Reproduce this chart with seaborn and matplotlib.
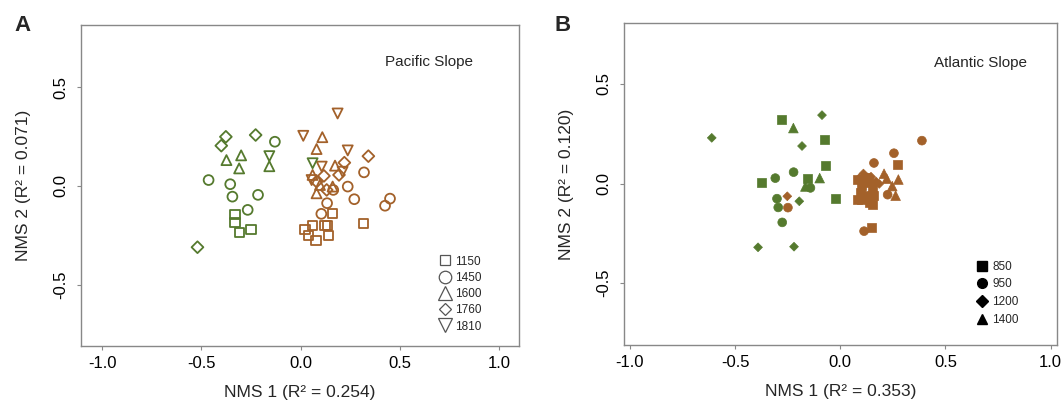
import matplotlib

matplotlib.use("Agg")
import matplotlib.pyplot as plt
import pandas as pd
import seaborn as sns
from matplotlib.lines import Line2D

sns.set_theme(style="white")
plt.rcParams["font.family"] = ["Liberation Sans", "DejaVu Sans"]

GREEN = "#557a2e"
BROWN = "#a3612a"

# Panel A: Pacific Slope (open markers)
pac_x = [-0.377, -0.40, -0.227, -0.13, -0.374, -0.30, -0.31, -0.158, -0.158, -0.464,
         -0.355, -0.344, -0.215, -0.267, -0.331, -0.331, -0.31, -0.25, -0.52, 0.06,
         0.186, 0.013, 0.109, 0.08, 0.237, 0.341, 0.22, 0.173, 0.106, 0.211,
         0.193, 0.319, 0.06, 0.117, 0.055, 0.08, 0.097, 0.161, 0.164, 0.131,
         0.08, 0.237, 0.27, 0.45, 0.425, 0.133, 0.104, 0.161, 0.316, 0.022,
         0.06, 0.122, 0.134, 0.038, 0.139, 0.077]
pac_y = [0.249, 0.204, 0.258, 0.224, 0.131, 0.155, 0.089, 0.151, 0.10, 0.03,
         0.009, -0.054, -0.045, -0.121, -0.146, -0.184, -0.236, -0.219, -0.31, 0.115,
         0.367, 0.254, 0.247, 0.187, 0.18, 0.151, 0.118, 0.103, 0.098, 0.072,
         0.056, 0.069, 0.056, 0.051, 0.03, 0.022, 0.005, -0.003, -0.02, -0.02,
         -0.037, -0.003, -0.067, -0.064, -0.10, -0.087, -0.141, -0.141, -0.189, -0.222,
         -0.202, -0.202, -0.202, -0.251, -0.251, -0.276]
pac_elev = [1760, 1760, 1760, 1450, 1600, 1600, 1600, 1810, 1600, 1450,
            1450, 1450, 1450, 1450, 1150, 1150, 1150, 1150, 1760, 1810,
            1810, 1810, 1600, 1600, 1810, 1760, 1760, 1600, 1810, 1810,
            1760, 1450, 1600, 1760, 1810, 1760, 1600, 1600, 1450, 1760,
            1600, 1450, 1450, 1450, 1450, 1450, 1450, 1150, 1150, 1150,
            1150, 1150, 1150, 1150, 1150, 1150]
pac_group = ["green"] * 20 + ["brown"] * 36

# Panel B: Atlantic Slope (filled markers)
atl_x = [-0.279, -0.223, -0.087, -0.611, -0.182, -0.077, -0.068, -0.222, -0.309, -0.374,
         -0.158, -0.098, -0.166, -0.142, -0.022, -0.301, -0.295, -0.195, -0.276, -0.391,
         -0.22,
         -0.252, -0.249, 0.388, 0.255, 0.273, 0.16, 0.208, 0.276, 0.221, 0.09,
         0.146, 0.185, 0.247, 0.225, 0.263, 0.113, 0.149, 0.084, 0.103, 0.122,
         0.094, 0.122, 0.151, 0.103, 0.141, 0.132, 0.084, 0.16, 0.154, 0.13,
         0.17, 0.11]
atl_y = [0.32, 0.278, 0.343, 0.229, 0.188, 0.219, 0.091, 0.057, 0.027, 0.005,
         0.024, 0.027, -0.015, -0.022, -0.076, -0.076, -0.12, -0.089, -0.195, -0.32,
         -0.317,
         -0.064, -0.121, 0.215, 0.152, 0.094, 0.103, 0.049, 0.02, 0.024, 0.027,
         0.034, -0.002, -0.013, -0.056, -0.061, -0.239, -0.222, 0.019, -0.012, 0.029,
         -0.047, -0.062, -0.022, -0.082, -0.097, 0.004, -0.082, -0.062, -0.107, 0.03,
         0.01, 0.05]
atl_elev = [850, 1400, 1200, 1200, 1200, 850, 850, 950, 950, 850,
            850, 1400, 1400, 950, 850, 950, 950, 1200, 950, 1200,
            1200,
            1200, 950, 950, 950, 850, 950, 1400, 1400, 1400, 1200,
            1200, 1200, 1400, 950, 1400, 950, 850, 850, 850, 850,
            850, 850, 850, 850, 850, 850, 850, 850, 850, 1200,
            1200, 1200]
atl_group = ["green"] * 21 + ["brown"] * 32

pac_levels = [1150, 1450, 1600, 1760, 1810]
pac_markers = {1150: "s", 1450: "o", 1600: "^", 1760: "D", 1810: "v"}
pac_sizes = {1150: 44, 1450: 50, 1600: 52, 1760: 36, 1810: 52}
atl_levels = [850, 950, 1200, 1400]
atl_markers = {850: "s", 950: "o", 1200: "D", 1400: "^"}
atl_sizes = {850: 42, 950: 40, 1200: 20, 1400: 48}

colors = {"green": GREEN, "brown": BROWN}


def style_axes(ax, xlabel, ylabel, xlim, ylim):
    ax.set_xlim(*xlim)
    ax.set_ylim(*ylim)
    ax.set_xticks([-1.0, -0.5, 0.0, 0.5, 1.0])
    ax.set_yticks([-0.5, 0.0, 0.5])
    ax.set_xticklabels(["-1.0", "-0.5", "0.0", "0.5", "1.0"])
    ax.set_yticklabels(["-0.5", "0.0", "0.5"], rotation=90, va="center")
    ax.tick_params(direction="out", length=3, width=0.8, color="#888888",
                   labelsize=12, labelcolor="black", pad=4,
                   bottom=True, left=True)
    ax.tick_params(axis="y", pad=6)
    for sp in ax.spines.values():
        sp.set_color("#888888")
        sp.set_linewidth(1.0)
    ax.set_xlabel(xlabel, fontsize=12.5, labelpad=10)
    ax.set_ylabel(ylabel, fontsize=12.5, labelpad=16)


fig = plt.figure(figsize=(10.64, 4.11), dpi=100)
ax_a = fig.add_axes([0.0761, 0.1582, 0.4117, 0.7810])
ax_b = fig.add_axes([0.5865, 0.1606, 0.4069, 0.7834])

pac = pd.DataFrame({"x": pac_x, "y": pac_y, "elev": pac_elev, "group": pac_group})
for grp, sub in pac.groupby("group"):
    sns.scatterplot(data=sub, x="x", y="y", style="elev", style_order=pac_levels,
                    markers=pac_markers, size="elev", sizes=pac_sizes,
                    color=colors[grp], facecolor="none", edgecolor=colors[grp],
                    linewidth=1.3, legend=False, ax=ax_a)

atl = pd.DataFrame({"x": atl_x, "y": atl_y, "elev": atl_elev, "group": atl_group})
for grp, sub in atl.groupby("group"):
    sns.scatterplot(data=sub, x="x", y="y", style="elev", style_order=atl_levels,
                    markers=atl_markers, size="elev", sizes=atl_sizes,
                    color=colors[grp], edgecolor=colors[grp], linewidth=0.5,
                    legend=False, ax=ax_b)

style_axes(ax_a, "NMS 1 (R² = 0.254)", "NMS 2 (R² = 0.071)", (-1.107, 1.10), (-0.81, 0.815))
style_axes(ax_b, "NMS 1 (R² = 0.353)", "NMS 2 (R² = 0.120)", (-1.028, 1.03), (-0.81, 0.805))

ax_a.text(0.795, 0.885, "Pacific Slope", transform=ax_a.transAxes,
          ha="center", va="center", fontsize=11)
ax_b.text(0.824, 0.876, "Atlantic Slope", transform=ax_b.transAxes,
          ha="center", va="center", fontsize=11)

fig.text(0.0207, 0.939, "A", fontsize=16, fontweight="bold", ha="center", va="center")
fig.text(0.529, 0.939, "B", fontsize=16, fontweight="bold", ha="center", va="center")

leg_a_sizes = {1150: 7.5, 1450: 9, 1600: 9.5, 1760: 6.5, 1810: 9.5}
handles_a = [Line2D([], [], marker=pac_markers[lv], linestyle="none",
                    markersize=leg_a_sizes[lv], markerfacecolor="none",
                    markeredgecolor="#555555", markeredgewidth=0.9,
                    label=str(lv)) for lv in pac_levels]
ax_a.legend(handles=handles_a, loc="upper left", bbox_to_anchor=(0.805, 0.30),
            frameon=False, fontsize=8.5, handletextpad=0.35, labelspacing=0.36,
            borderpad=0, handlelength=1.0)

leg_b_sizes = {850: 7, 950: 7, 1200: 6.5, 1400: 7}
handles_b = [Line2D([], [], marker=atl_markers[lv], linestyle="none",
                    markersize=leg_b_sizes[lv],
                    markerfacecolor="black", markeredgecolor="black",
                    label=str(lv)) for lv in atl_levels]
ax_b.legend(handles=handles_b, loc="upper left", bbox_to_anchor=(0.80, 0.28),
            frameon=False, fontsize=8.5, handletextpad=0.35, labelspacing=0.48,
            borderpad=0, handlelength=1.0)

fig.savefig("out.png", dpi=100)
